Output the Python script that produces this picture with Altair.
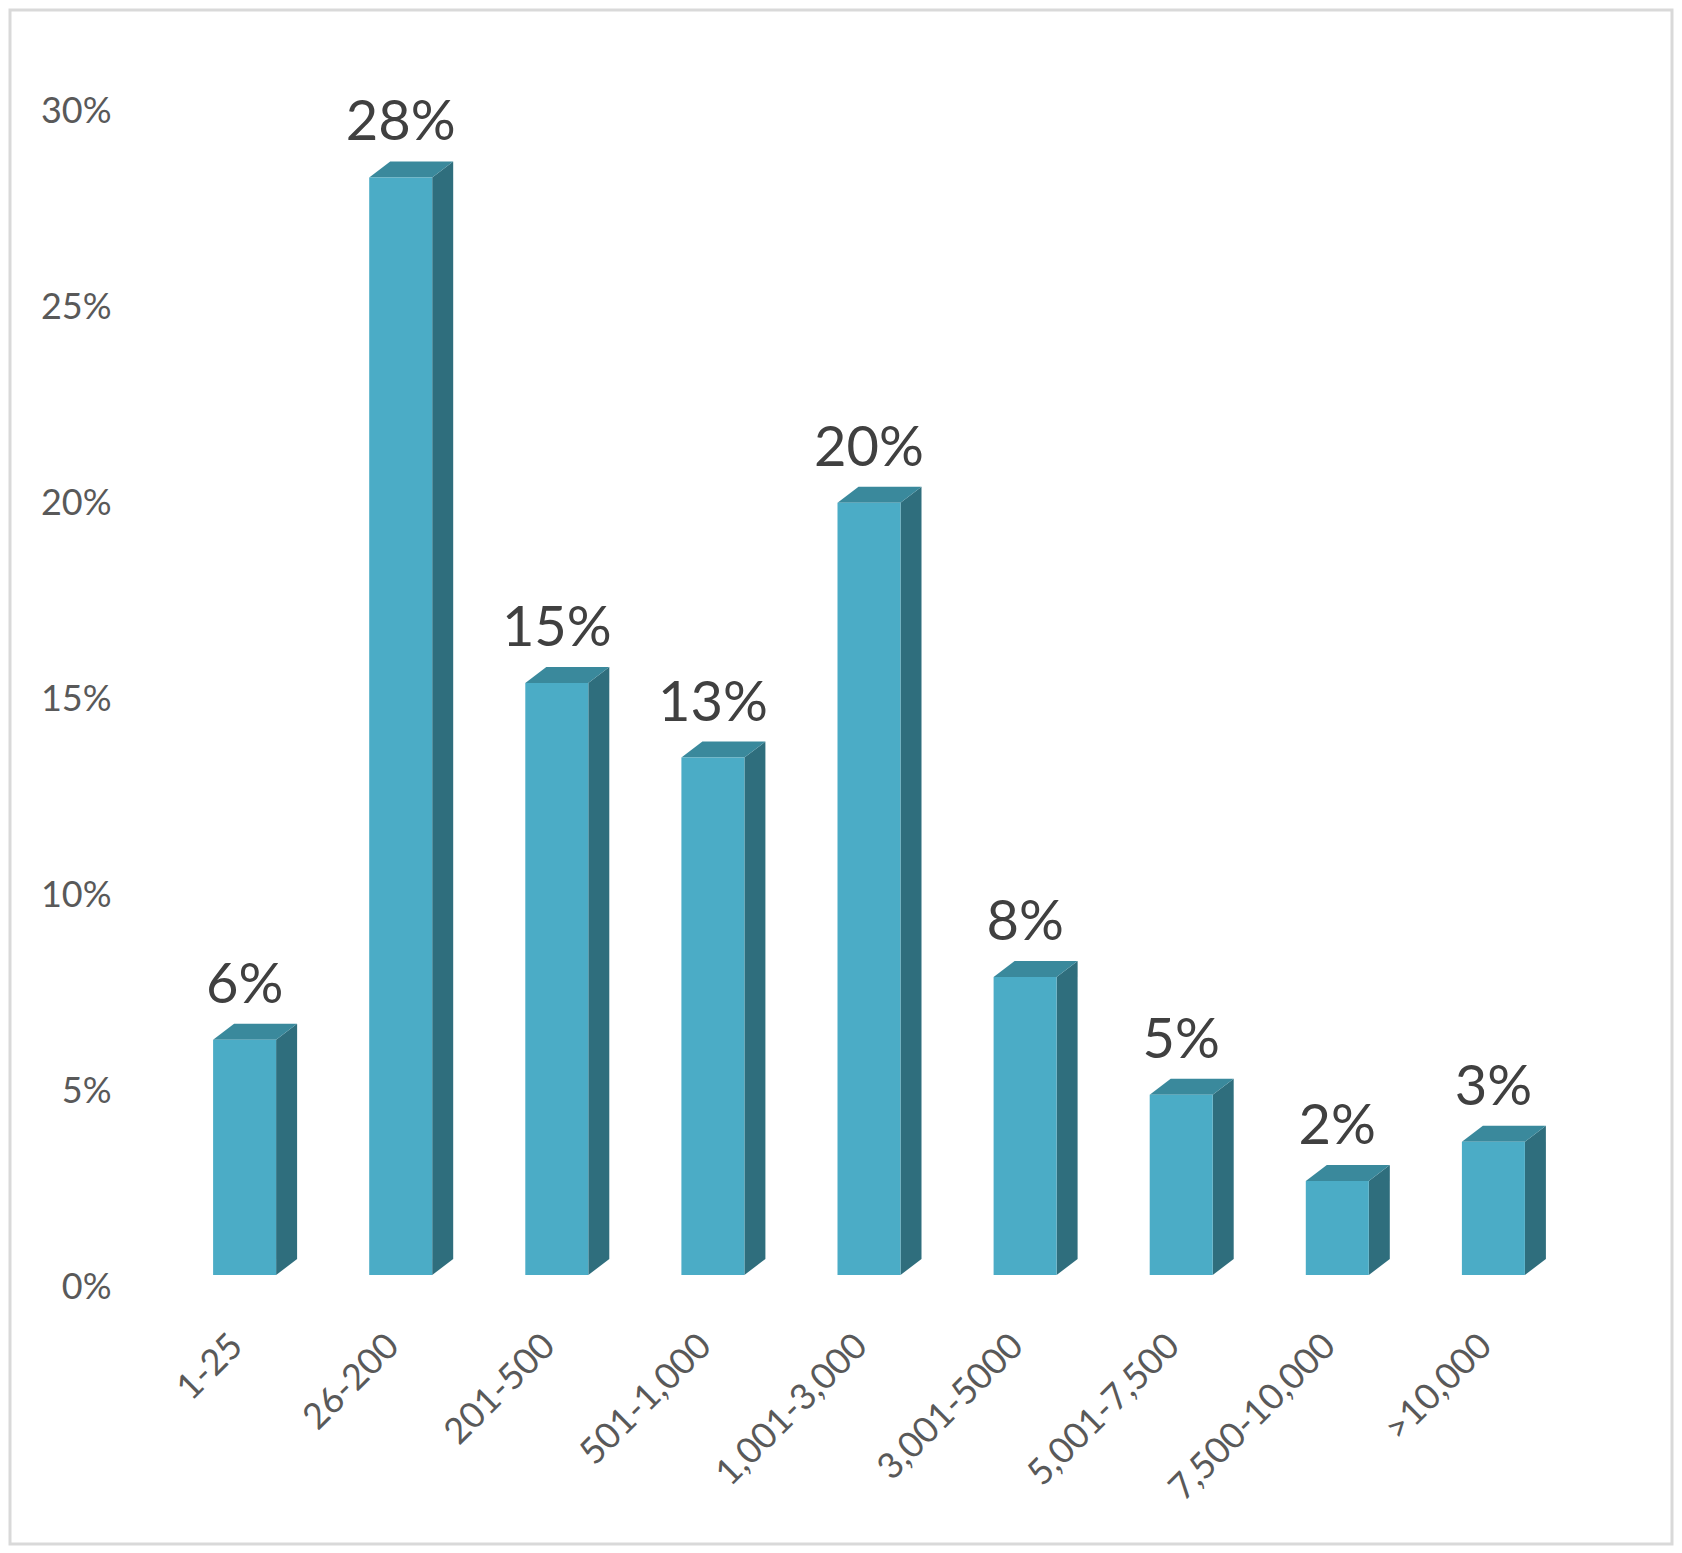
import json
import altair as alt
import pandas as pd

# ---- data ----
categories = ["1-25", "26-200", "201-500", "501-1,000", "1,001-3,000",
              "3,001-5000", "5,001-7,500", "7,500-10,000", ">10,000"]
shares = [0.060, 0.280, 0.151, 0.132, 0.197, 0.076, 0.046, 0.024, 0.034]
y_ticks = [0, 0.05, 0.10, 0.15, 0.20, 0.25, 0.30]

# ---- layout / style constants (pixels) ----
W, H = 1662, 1534
PAD = 2
X0_PX = 234.6          # centre of first bar within the view
STEP_PX = 156.1        # distance between bar centres
HALF_W_PX = 31.5       # half width of the front face
DEPTH_X_PX = 21        # 3D depth, horizontal
DEPTH_Y_PX = 16        # 3D depth, vertical
ZERO_PX = 1265         # y of the 0 baseline within the view
PX_PER_UNIT = 3920     # pixels per 100 %

FRONT = "#4BACC6"
SIDE = "#2F6E7D"
TOP = "#3A899C"

# scale domains derived from the layout constants
x_dom = [-X0_PX / STEP_PX, (W - X0_PX) / STEP_PX]
y_dom = [(ZERO_PX - H) / PX_PER_UNIT, ZERO_PX / PX_PER_UNIT]
hw = HALF_W_PX / STEP_PX
ddx = DEPTH_X_PX / STEP_PX
ddy = DEPTH_Y_PX / PX_PER_UNIT

front = pd.DataFrame({
    "cat": categories,
    "i": list(range(len(categories))),
    "x": [i - hw for i in range(len(categories))],
    "x2": [i + hw for i in range(len(categories))],
    "y": [0.0] * len(categories),
    "y2": shares,
})

side_rows, top_rows = [], []
for i, (c, v) in enumerate(zip(categories, shares)):
    side_rows.append({"cat": c, "x": i + hw, "lo": 0.0, "hi": v})
    side_rows.append({"cat": c, "x": i + hw + ddx, "lo": ddy, "hi": v + ddy})
    top_rows.append({"cat": c, "y": v, "xl": i - hw, "xr": i + hw})
    top_rows.append({"cat": c, "y": v + ddy, "xl": i - hw + ddx, "xr": i + hw + ddx})
side = pd.DataFrame(side_rows)
top = pd.DataFrame(top_rows)

xs = alt.Scale(domain=x_dom, nice=False, zero=False)
ys = alt.Scale(domain=y_dom, nice=False, zero=False)

label_expr = json.dumps(categories) + "[round(datum.value)]"

x_axis = alt.Axis(values=list(range(len(categories))), labelExpr=label_expr,
                  labelAngle=-45, labelAlign="right", labelBaseline="middle",
                  labelFont="Lato", labelFontSize=36, labelColor="#595959",
                  ticks=False, domain=False, grid=False, title=None,
                  offset=-204, labelPadding=0, labelOffset=-8, labelOverlap=False,
                  labelLimit=0)
y_axis = alt.Axis(values=y_ticks, format=".0%", labelFont="Lato", labelFontSize=36,
                  labelColor="#595959", ticks=False, domain=False, grid=False,
                  title=None, offset=-101, labelPadding=0, labelOffset=12,
                  labelOverlap=False)

side_layer = alt.Chart(side).mark_area(color=SIDE, orient="vertical").encode(
    x=alt.X("x:Q", scale=xs, axis=x_axis),
    y=alt.Y("hi:Q", scale=ys, axis=y_axis),
    y2="lo:Q",
    detail="cat:N",
)

top_layer = alt.Chart(top).mark_area(color=TOP, orient="horizontal").encode(
    y=alt.Y("y:Q", scale=ys),
    x=alt.X("xl:Q", scale=xs),
    x2="xr:Q",
    detail="cat:N",
)

front_layer = alt.Chart(front).mark_rect(color=FRONT).encode(
    x=alt.X("x:Q", scale=xs),
    x2="x2:Q",
    y=alt.Y("y:Q", scale=ys),
    y2="y2:Q",
)

text_layer = alt.Chart(front).mark_text(
    font="Lato", fontSize=56, color="#404040", baseline="alphabetic",
    align="center", dy=-37
).encode(
    x=alt.X("i:Q", scale=xs),
    y=alt.Y("y2:Q", scale=ys),
    text=alt.Text("y2:Q", format=".0%"),
)

chart = alt.layer(side_layer, top_layer, front_layer, text_layer).properties(
    width=W, height=H, padding=PAD, autosize=alt.AutoSizeParams(type="none"),
    background="white",
).configure_view(stroke="#D9D9D9", strokeWidth=3)

chart.save("out.html", embed_options={"renderer": "svg", "actions": False})
